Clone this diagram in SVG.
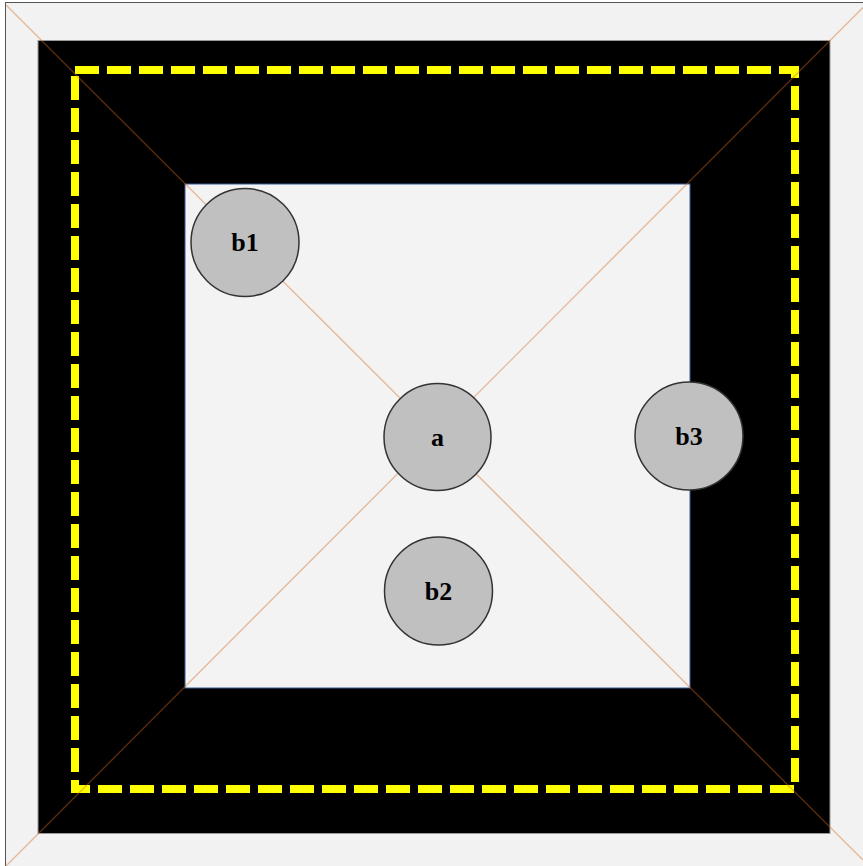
<svg xmlns="http://www.w3.org/2000/svg" width="863" height="866" viewBox="0 0 863 866">
<style>
.node circle{fill:#c0c0c0;stroke:#333;stroke-width:1.5}
.node text{font-family:"Liberation Serif",serif;font-weight:bold;font-size:26px;text-anchor:middle;fill:#000}
.edge{stroke:#d2691e;stroke-opacity:0.42;stroke-width:1.4;fill:none}
</style>
<rect x="0" y="0" width="863" height="866" fill="#ffffff"/>
<rect id="frame" x="5.5" y="2.5" width="870" height="880" fill="#f2f2f2" stroke="#555" stroke-width="1"/>
<rect id="outer" x="38" y="40.5" width="792" height="793" fill="#000" stroke="#999" stroke-width="1"/>
<rect id="inner" x="185" y="184" width="505" height="504" fill="#f3f3f3" stroke="#3b5b9b" stroke-width="1"/>
<rect id="dashed" x="75" y="70" width="720" height="719" fill="none" stroke="#ffff00" stroke-width="8" stroke-dasharray="24 8"/>
<g id="connectors">
<line class="edge" x1="6" y1="5" x2="863" y2="860"/>
<line class="edge" x1="863" y1="7.5" x2="6" y2="866"/>
</g>
<g id="b1" class="node"><circle cx="245" cy="242.5" r="54"/><text x="245" y="251">b1</text></g>
<g id="a" class="node"><circle cx="437.5" cy="437" r="53.5"/><text x="437.5" y="445.5">a</text></g>
<g id="b3" class="node"><circle cx="689" cy="436" r="54"/><text x="689" y="444.5">b3</text></g>
<g id="b2" class="node"><circle cx="438.5" cy="591" r="54"/><text x="438.5" y="599.5">b2</text></g>
</svg>
